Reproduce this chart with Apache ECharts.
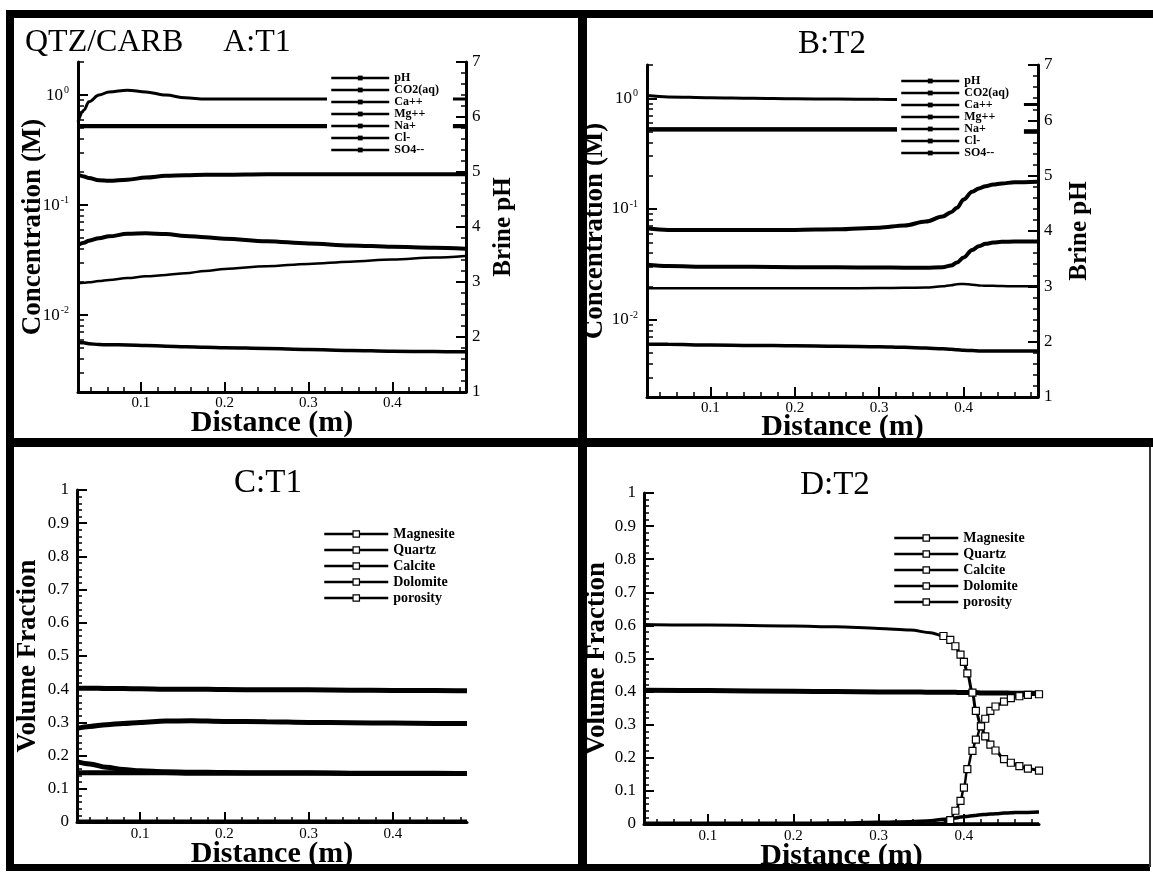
<!DOCTYPE html>
<html><head><meta charset="utf-8">
<script src="https://cdn.jsdelivr.net/npm/echarts@6/dist/echarts.min.js"></script>
<style>html,body{margin:0;padding:0;background:#fff}#c{width:1153px;height:872px}</style>
</head><body><div id="c"></div>
<script>
// ---------- tick values ----------
const xMajorTicks = [0.1, 0.2, 0.3, 0.4];
const xMinorTicks = [0.04, 0.06, 0.08, 0.12, 0.14, 0.16, 0.18, 0.22, 0.24, 0.26, 0.28, 0.32, 0.34, 0.36, 0.38, 0.42, 0.44, 0.46, 0.48];
const concMajorTicks = [0.01, 0.1, 1];
const concMinorTicks = [0.003, 0.004, 0.005, 0.006, 0.007, 0.008, 0.009, 0.02, 0.03, 0.04, 0.05, 0.06, 0.07, 0.08, 0.09, 0.2, 0.3, 0.4, 0.5, 0.6, 0.7, 0.8, 0.9, 1.999];

// ---------- Panel A (T1, aqueous) ----------
const distA = [0.025, 0.032, 0.038, 0.05, 0.062, 0.084, 0.106, 0.13, 0.153, 0.177, 0.2, 0.25, 0.3, 0.35, 0.4, 0.45, 0.487];
const pH_A  = [4.95, 4.92, 4.89, 4.85, 4.84, 4.86, 4.9, 4.93, 4.94, 4.95, 4.95, 4.96, 4.96, 4.96, 4.96, 4.96, 4.96];
const co2_A = [0.57, 0.73, 0.87, 1.0, 1.07, 1.11, 1.07, 1.0, 0.946, 0.92, 0.92, 0.92, 0.92, 0.92, 0.92, 0.92, 0.92];
const ca_A  = [0.0433, 0.0455, 0.0475, 0.050, 0.052, 0.0548, 0.0555, 0.0545, 0.0525, 0.051, 0.0495, 0.047, 0.0448, 0.043, 0.0418, 0.041, 0.0402];
const mg_A  = [0.0195, 0.0197, 0.0199, 0.0204, 0.0209, 0.0217, 0.0225, 0.0232, 0.024, 0.0252, 0.0263, 0.0278, 0.0292, 0.0306, 0.032, 0.0334, 0.0345];
const na_A  = [0.52, 0.52, 0.52, 0.52, 0.52, 0.52, 0.52, 0.52, 0.52, 0.52, 0.52, 0.52, 0.52, 0.52, 0.52, 0.52, 0.52];
const cl_A  = [0.525, 0.525, 0.525, 0.525, 0.525, 0.525, 0.525, 0.525, 0.525, 0.525, 0.525, 0.525, 0.525, 0.525, 0.525, 0.525, 0.525];
const so4_A = [0.0057, 0.0056, 0.0055, 0.0054, 0.00538, 0.00535, 0.0053, 0.00522, 0.00515, 0.0051, 0.00505, 0.00498, 0.00488, 0.00478, 0.0047, 0.00466, 0.00464];

// ---------- Panel B (T2, aqueous) ----------
const distB = [0.025, 0.05, 0.1, 0.15, 0.2, 0.25, 0.3, 0.33, 0.355, 0.375, 0.385, 0.392, 0.4, 0.41, 0.418, 0.426, 0.435, 0.445, 0.46, 0.487];
const pH_B  = [4.05, 4.02, 4.02, 4.02, 4.02, 4.03, 4.06, 4.1, 4.17, 4.26, 4.34, 4.42, 4.57, 4.71, 4.77, 4.81, 4.84, 4.86, 4.88, 4.89];
const co2_B = [1.06, 1.03, 1.01, 1.0, 0.99, 0.985, 0.98, 0.975, 0.97, 0.965, 0.96, 0.95, 0.94, 0.92, 0.905, 0.895, 0.89, 0.885, 0.88, 0.88];
const ca_B  = [0.0313, 0.0305, 0.030, 0.030, 0.0298, 0.0297, 0.0296, 0.0295, 0.0295, 0.0298, 0.0308, 0.0328, 0.0365, 0.0427, 0.046, 0.0484, 0.0497, 0.0505, 0.0508, 0.0508];
const mg_B  = [0.0192, 0.0192, 0.0192, 0.0192, 0.0192, 0.0192, 0.0193, 0.0194, 0.0195, 0.020, 0.0205, 0.0209, 0.021, 0.0207, 0.0204, 0.0202, 0.0202, 0.0201, 0.020, 0.020];
const na_B  = [0.522, 0.522, 0.522, 0.522, 0.522, 0.522, 0.522, 0.522, 0.522, 0.522, 0.522, 0.52, 0.515, 0.51, 0.505, 0.502, 0.5, 0.5, 0.5, 0.5];
const cl_B  = [0.526, 0.526, 0.526, 0.526, 0.526, 0.526, 0.526, 0.526, 0.526, 0.526, 0.526, 0.524, 0.519, 0.514, 0.509, 0.506, 0.504, 0.504, 0.504, 0.504];
const so4_B = [0.0060, 0.00598, 0.0059, 0.00585, 0.0058, 0.00575, 0.0057, 0.00562, 0.00555, 0.00545, 0.0054, 0.00535, 0.0053, 0.00525, 0.00522, 0.0052, 0.0052, 0.0052, 0.0052, 0.0052];

// ---------- Panel C (T1, minerals) ----------
const distC = [0.025, 0.04, 0.06, 0.08, 0.1, 0.13, 0.16, 0.2, 0.25, 0.3, 0.35, 0.4, 0.45, 0.488];
const magnesite_C = [0.003, 0.003, 0.003, 0.003, 0.003, 0.003, 0.003, 0.003, 0.003, 0.003, 0.003, 0.003, 0.003, 0.003];
const quartz_C    = [0.403, 0.403, 0.402, 0.402, 0.401, 0.4, 0.4, 0.399, 0.398, 0.398, 0.397, 0.396, 0.396, 0.395];
const calcite_C   = [0.282, 0.288, 0.293, 0.297, 0.3, 0.304, 0.305, 0.303, 0.302, 0.3, 0.299, 0.298, 0.297, 0.297];
const dolomite_C  = [0.148, 0.148, 0.148, 0.148, 0.148, 0.148, 0.147, 0.147, 0.147, 0.147, 0.146, 0.146, 0.146, 0.146];
const porosity_C  = [0.182, 0.175, 0.165, 0.158, 0.154, 0.151, 0.15, 0.149, 0.148, 0.148, 0.147, 0.147, 0.147, 0.146];

// ---------- Panel D (T2, minerals) ----------
const distD = [0.025, 0.1, 0.2, 0.25, 0.3, 0.337, 0.361, 0.376, 0.384, 0.39, 0.396, 0.4, 0.404, 0.41, 0.414, 0.42, 0.425, 0.431, 0.437, 0.447, 0.455, 0.465, 0.475, 0.488];
const magnesite_D = [0.001, 0.001, 0.001, 0.001, 0.001, 0.001, 0.001, 0.001, 0.001, 0.001, 0.001, 0.001, 0.001, 0.001, 0.001, 0.001, 0.001, 0.001, 0.001, 0.001, 0.001, 0.001, 0.001, 0.001];
const quartz_D    = [0.404, 0.403, 0.401, 0.4, 0.399, 0.399, 0.398, 0.398, 0.398, 0.398, 0.397, 0.397, 0.397, 0.397, 0.397, 0.396, 0.396, 0.396, 0.396, 0.396, 0.395, 0.395, 0.395, 0.395];
const calcite_D   = [0.603, 0.601, 0.598, 0.596, 0.591, 0.586, 0.578, 0.568, 0.556, 0.537, 0.512, 0.49, 0.455, 0.397, 0.342, 0.296, 0.265, 0.24, 0.222, 0.196, 0.185, 0.175, 0.167, 0.161];
const dolomite_D  = [0, 0, 0, 0, 0, 0, 0.001, 0.004, 0.012, 0.04, 0.07, 0.11, 0.166, 0.221, 0.255, 0.295, 0.318, 0.342, 0.355, 0.37, 0.38, 0.386, 0.39, 0.392];
const porosity_D  = [0.002, 0.002, 0.002, 0.003, 0.005, 0.007, 0.01, 0.014, 0.016, 0.018, 0.021, 0.022, 0.023, 0.025, 0.026, 0.028, 0.029, 0.03, 0.031, 0.033, 0.034, 0.035, 0.035, 0.036];

const aqNames = ['pH', 'CO2(aq)', 'Ca++', 'Mg++', 'Na+', 'Cl-', 'SO4--'];
const minNames = ['Magnesite', 'Quartz', 'Calcite', 'Dolomite', 'porosity'];

// ---------- styling helpers ----------
const SERIF = '"Liberation Serif", "DejaVu Serif", serif';
const X_MIN = 0.025, X_MAX = 0.488;
const BLK = '#000';

const gridBoxes = [
  {left: 78, top: 62, width: 388, height: 330},
  {left: 647, top: 65, width: 391, height: 332},
  {left: 77, top: 490, width: 390, height: 332},
  {left: 644, top: 493, width: 395, height: 332}
];

function xMain(g, gap, lblMargin) {
  return {
    type: 'value', gridIndex: g, min: X_MIN, max: X_MAX, position: 'bottom',
    axisLine: {show: true, onZero: false, lineStyle: {color: BLK, width: 3}},
    axisTick: {show: true, inside: true, length: 10, lineStyle: {color: BLK, width: 2}, customValues: xMajorTicks},
    axisLabel: {show: true, customValues: xMajorTicks, color: BLK, fontFamily: SERIF, fontSize: 15, margin: lblMargin},
    splitLine: {show: false},
    name: 'Distance (m)', nameLocation: 'middle', nameGap: gap, nameMoveOverlap: false,
    nameTextStyle: {fontFamily: SERIF, fontWeight: 'bold', fontSize: 30, color: BLK}
  };
}
function xMinor(g) {
  return {
    type: 'value', gridIndex: g, min: X_MIN, max: X_MAX, position: 'bottom',
    axisLine: {show: false, onZero: false},
    axisTick: {show: true, inside: true, length: 5, lineStyle: {color: BLK, width: 1.5}, customValues: xMinorTicks},
    axisLabel: {show: false}, splitLine: {show: false}
  };
}
function yLog(g, gap) {
  return {
    type: 'log', logBase: 10, gridIndex: g, min: 0.002, max: 2, position: 'left',
    axisLine: {show: true, onZero: false, lineStyle: {color: BLK, width: 3}},
    axisTick: {show: true, inside: true, length: 10, lineStyle: {color: BLK, width: 2}, customValues: concMajorTicks},
    axisLabel: {
      show: true, customValues: concMajorTicks, margin: 9,
      formatter: v => '{b|10}{e|' + Math.round(Math.log10(v)) + '}',
      rich: {
        b: {fontFamily: SERIF, fontSize: 17, color: BLK},
        e: {fontFamily: SERIF, fontSize: 10, color: BLK, verticalAlign: 'top', padding: [0, 0, 9, 1]}
      }
    },
    splitLine: {show: false},
    name: 'Concentration (M)', nameLocation: 'middle', nameGap: gap, nameRotate: 90, nameMoveOverlap: false,
    nameTextStyle: {fontFamily: SERIF, fontWeight: 'bold', fontSize: 27, color: BLK}
  };
}
function yLogMinor(g) {
  return {
    type: 'log', logBase: 10, gridIndex: g, min: 0.002, max: 2, position: 'left',
    axisLine: {show: false, onZero: false},
    axisTick: {show: true, inside: true, length: 6, lineStyle: {color: BLK, width: 1.5}, customValues: concMinorTicks},
    axisLabel: {show: false}, splitLine: {show: false}
  };
}
function yPH(g, gap) {
  return {
    type: 'value', gridIndex: g, min: 1, max: 7, interval: 1, position: 'right',
    axisLine: {show: true, onZero: false, lineStyle: {color: BLK, width: 3}},
    axisTick: {show: true, inside: true, length: 10, lineStyle: {color: BLK, width: 2}},
    minorTick: {show: true, splitNumber: 5, length: 5, lineStyle: {color: BLK, width: 1.5}},
    axisLabel: {show: true, color: BLK, fontFamily: SERIF, fontSize: 17, margin: 6},
    splitLine: {show: false},
    name: 'Brine pH', nameLocation: 'middle', nameGap: gap, nameRotate: 90, nameMoveOverlap: false,
    nameTextStyle: {fontFamily: SERIF, fontWeight: 'bold', fontSize: 25, color: BLK}
  };
}
function yVol(g, gap) {
  return {
    type: 'value', gridIndex: g, min: 0, max: 1, interval: 0.1, position: 'left',
    axisLine: {show: true, onZero: false, lineStyle: {color: BLK, width: 3}},
    axisTick: {show: true, inside: true, length: 10, lineStyle: {color: BLK, width: 2}},
    minorTick: {show: true, splitNumber: 5, length: 5, lineStyle: {color: BLK, width: 1.5}},
    axisLabel: {show: true, color: BLK, fontFamily: SERIF, fontSize: 17, margin: 8},
    splitLine: {show: false},
    name: 'Volume Fraction', nameLocation: 'middle', nameGap: gap, nameRotate: 90, nameMoveOverlap: false,
    nameTextStyle: {fontFamily: SERIF, fontWeight: 'bold', fontSize: 27, color: BLK}
  };
}

// markFrom: distance from which point markers are drawn (Infinity = none)
function line(name, xi, yi, xs, ys, width, opt, markFrom) {
  opt = opt || {};
  const from = markFrom === undefined ? Infinity : markFrom;
  return Object.assign({
    type: 'line', name: name, xAxisIndex: xi, yAxisIndex: yi,
    data: xs.map((x, i) => ({value: [x, ys[i]], symbol: x >= from ? 'rect' : 'none'})),
    showSymbol: from !== Infinity, symbol: 'rect', symbolSize: 7,
    smooth: 0.35, smoothMonotone: 'x',
    lineStyle: {color: BLK, width: width},
    itemStyle: {color: BLK},
    silent: true, animation: false, z: 2
  }, opt);
}
const hollow = {itemStyle: {color: '#fff', borderColor: BLK, borderWidth: 1.2}};

// xAxis: 0 A, 1 A minor, 2 B, 3 B minor, 4 C, 5 C minor, 6 D, 7 D minor
// yAxis: 0 A log, 1 A log minor, 2 A pH, 3 B log, 4 B log minor, 5 B pH, 6 C vol, 7 D vol
const series = [
  line('pH', 0, 2, distA, pH_A, 4),
  line('CO2(aq)', 0, 0, distA, co2_A, 3),
  line('Ca++', 0, 0, distA, ca_A, 4),
  line('Mg++', 0, 0, distA, mg_A, 2.5),
  line('Na+', 0, 0, distA, na_A, 4),
  line('Cl-', 0, 0, distA, cl_A, 4),
  line('SO4--', 0, 0, distA, so4_A, 3.5),

  line('pH', 2, 5, distB, pH_B, 4),
  line('CO2(aq)', 2, 3, distB, co2_B, 3),
  line('Ca++', 2, 3, distB, ca_B, 4),
  line('Mg++', 2, 3, distB, mg_B, 2.5),
  line('Na+', 2, 3, distB, na_B, 4),
  line('Cl-', 2, 3, distB, cl_B, 4),
  line('SO4--', 2, 3, distB, so4_B, 3.5),

  line('Magnesite', 4, 6, distC, magnesite_C, 3, hollow),
  line('Quartz', 4, 6, distC, quartz_C, 5, hollow),
  line('Calcite', 4, 6, distC, calcite_C, 5, hollow),
  line('Dolomite', 4, 6, distC, dolomite_C, 5, hollow),
  line('porosity', 4, 6, distC, porosity_C, 5, hollow),

  line('Magnesite', 6, 7, distD, magnesite_D, 3, hollow),
  line('Quartz', 6, 7, distD, quartz_D, 5, hollow),
  line('Calcite', 6, 7, distD, calcite_D, 3, hollow, 0.37),
  line('Dolomite', 6, 7, distD, dolomite_D, 2.5, hollow, 0.38),
  line('porosity', 6, 7, distD, porosity_D, 3.5, hollow)
];

function aqLegend(left, top, padR) {
  return {
    orient: 'vertical', left: left, top: top, data: aqNames, selectedMode: false,
    itemWidth: 58, itemHeight: 6, itemGap: 0, backgroundColor: '#fff', padding: [3, padR, 3, 3], z: 5,
    textStyle: {fontFamily: SERIF, fontWeight: 'bold', fontSize: 12, lineHeight: 12, color: BLK},
    itemStyle: {color: BLK, borderWidth: 0},
    lineStyle: {color: BLK, width: 2.5}
  };
}
function minLegend(left, top) {
  return {
    orient: 'vertical', left: left, top: top, data: minNames, selectedMode: false,
    itemWidth: 64, itemHeight: 8, itemGap: 2, backgroundColor: '#fff', padding: [3, 6, 3, 3], z: 5,
    textStyle: {fontFamily: SERIF, fontWeight: 'bold', fontSize: 14, lineHeight: 12.5, color: BLK},
    itemStyle: {color: '#fff', borderColor: BLK, borderWidth: 1.2},
    lineStyle: {color: BLK, width: 2.5}
  };
}

function rect(x, y, w, h, fill) {
  return {type: 'rect', silent: true, z: -1, shape: {x: x, y: y, width: w, height: h}, style: {fill: fill || BLK}};
}
function title(text, x, y, align, size) {
  return {type: 'text', silent: true, z: 10, x: x, y: y,
    style: {text: text, fill: BLK, font: size + 'px ' + SERIF, align: align, verticalAlign: 'middle'}};
}

const option = {
  backgroundColor: '#fff',
  animation: false,
  grid: gridBoxes.map(b => Object.assign({containLabel: false}, b)),
  xAxis: [xMain(0, 16, 4), xMinor(0), xMain(1, 15, 4), xMinor(1), xMain(2, 17, 5), xMinor(2), xMain(3, 17, 5), xMinor(3)],
  yAxis: [yLog(0, 31), yLogMinor(0), yPH(0, 25), yLog(1, 38), yLogMinor(1), yPH(1, 29), yVol(2, 35), yVol(3, 33)],
  legend: [aqLegend(327, 69, 14), aqLegend(897, 72, 15), minLegend(320, 524), minLegend(890, 528)],
  series: series,
  graphic: [
    rect(6, 10, 1147, 8),
    rect(6, 10, 8, 861),
    rect(6, 864, 1144, 7),
    rect(578, 10, 9, 861),
    rect(6, 438, 1147, 9),
    rect(1149, 447, 2, 420, '#333'),
    title('QTZ/CARB     A:T1', 25, 43, 'left', 32),
    title('B:T2', 832, 44, 'center', 33),
    title('C:T1', 268, 483, 'center', 33),
    title('D:T2', 835, 485, 'center', 33)
  ]
};

const chart = echarts.init(document.getElementById('c'), null, {renderer: 'canvas'});
chart.setOption(option);
</script></body></html>
